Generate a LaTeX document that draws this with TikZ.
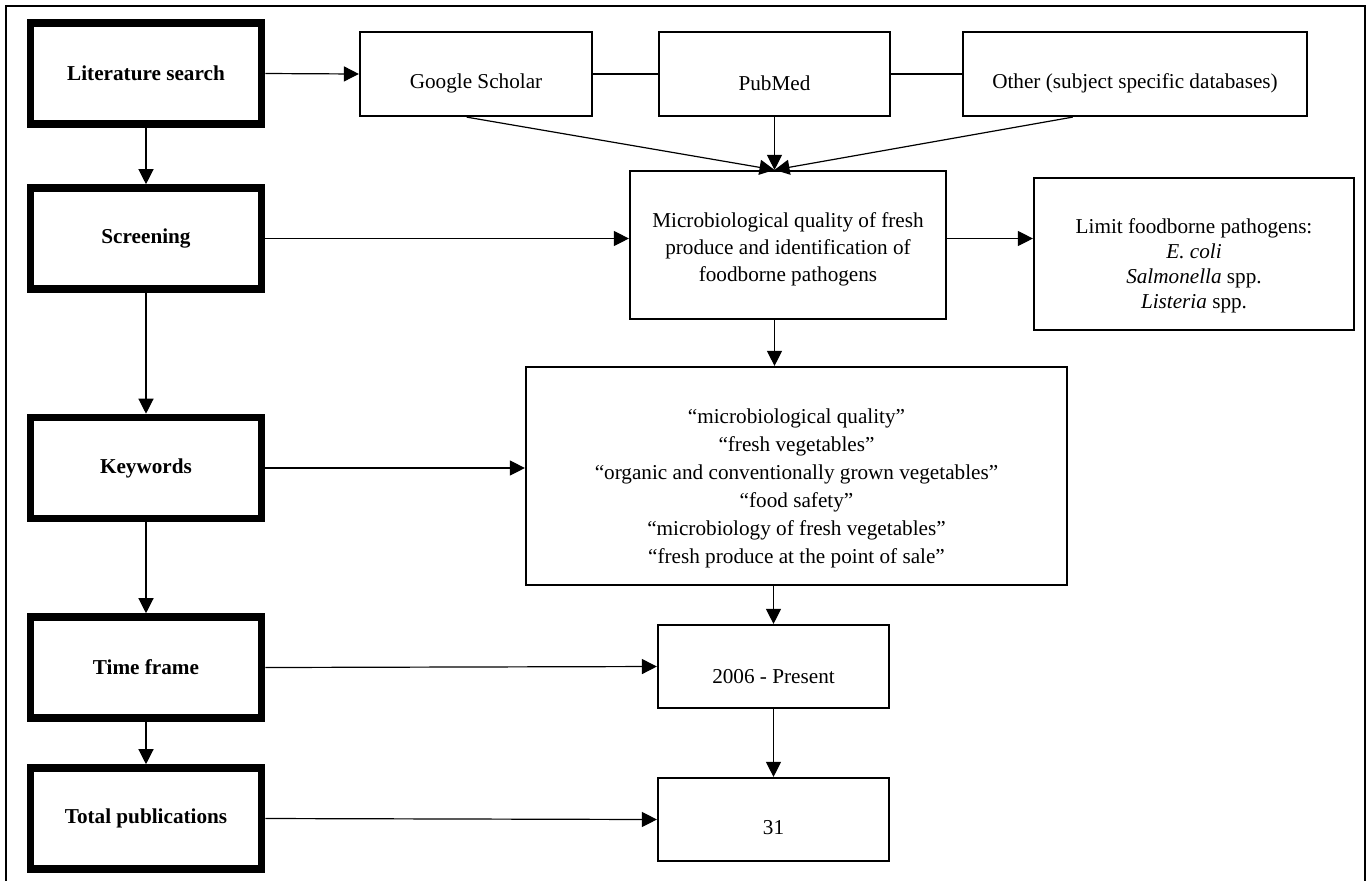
\documentclass[tikz,border=0pt]{standalone}
\usepackage{fontspec}
\setmainfont{Liberation Serif}
\usetikzlibrary{calc,arrows.meta}
\newcommand{\boxfont}{\fontsize{10.6}{13.5}\selectfont}
\tikzset{
  stage/.style={draw, line width=3.8pt, minimum width=115.5pt, minimum height=50.5pt, font=\boxfont\bfseries},
  thinbox/.style={draw, line width=1.1pt},
  link/.style={line width=0.6pt},
  arrow/.style={link, -{Triangle[length=7.5pt,width=7.5pt]}}
}
\newcommand{\textbox}[6]{
  \node[thinbox, minimum width=#3, minimum height=#4] (#1) at (#2) {};
  \node[align=center, yshift=#5] (#1-text) at (#1) {#6};
}

\begin{document}
\begin{tikzpicture}[x=0.5pt, y=-0.5pt, font=\boxfont]
  \useasboundingbox (0,0) rectangle (1369,880);
  \draw[line width=1.4pt] (6,890) -- (6,6) -- (1365,6) -- (1365,890);

  \foreach \name/\ypos/\txt in {lit/73.5/Literature search, screen/238.5/Screening,
      keywords/468/Keywords, time/667.5/Time frame, total/818.5/Total publications}
    \node[stage] (\name) at (146,\ypos) {\txt};

  \textbox{google}{476,74}{116pt}{42pt}{-4.5pt}{Google Scholar}
  \textbox{pubmed}{774.5,74}{115.5pt}{42pt}{-4.5pt}{PubMed}
  \textbox{other}{1135,74}{172pt}{42pt}{-4.5pt}{Other (subject specific databases)}
  \textbox{micro}{788,245}{158pt}{74pt}{-2.2pt}{Microbiological quality of fresh\\produce and identification of\\foodborne pathogens}
  \textbox{limit}{1194,254}{160pt}{76pt}{-6pt}{Limit foodborne pathogens:\\[-1pt]\textit{E. coli}\\[-1pt]\textit{Salmonella} spp.\\[-1pt]\textit{Listeria} spp.}
  \textbox{kw}{796.5,476}{270.5pt}{109pt}{-6pt}{“microbiological quality”\\[0.5pt]“fresh vegetables”\\[0.5pt]“organic and conventionally grown vegetables”\\[0.5pt]“food safety”\\[0.5pt]“microbiology of fresh vegetables”\\[0.5pt]“fresh produce at the point of sale”}
  \textbox{year}{773.5,666.5}{115.5pt}{41.5pt}{-5pt}{2006 - Present}
  \textbox{res}{773.5,819.5}{115.5pt}{41.5pt}{-4.2pt}{31}

  \coordinate (hub) at (pubmed.south |- micro.north);

  \foreach \a/\b in {lit/screen, screen/keywords, keywords/time, time/total}
    \draw[arrow] (\a) -- (\b);

  \draw[arrow] (lit.east) -- (google.west);
  \draw[link] (google.east) -- (pubmed.west);
  \draw[link] (pubmed.east) -- (other.west);
  \draw[arrow] ($(google.south west)!0.46!(google.south east)$) -- (hub);
  \draw[arrow] (pubmed.south) -- (hub);
  \draw[arrow] ($(other.south west)!0.32!(other.south east)$) -- (hub);
  \draw[arrow] (screen.east) -- (screen.east -| micro.west);
  \draw[arrow] (micro.east |- screen.east) -- (limit.west |- screen.east);
  \draw[arrow] (micro.south -| hub) -- (kw.north -| hub);
  \draw[arrow] (keywords.east) -- (keywords.east -| kw.west);
  \draw[arrow] (kw.south -| year.north) -- (year.north);
  \draw[arrow] (time.east) -- (year.west);
  \draw[arrow] (year) -- (res);
  \draw[arrow] (total.east) -- (res.west);
\end{tikzpicture}
\end{document}
